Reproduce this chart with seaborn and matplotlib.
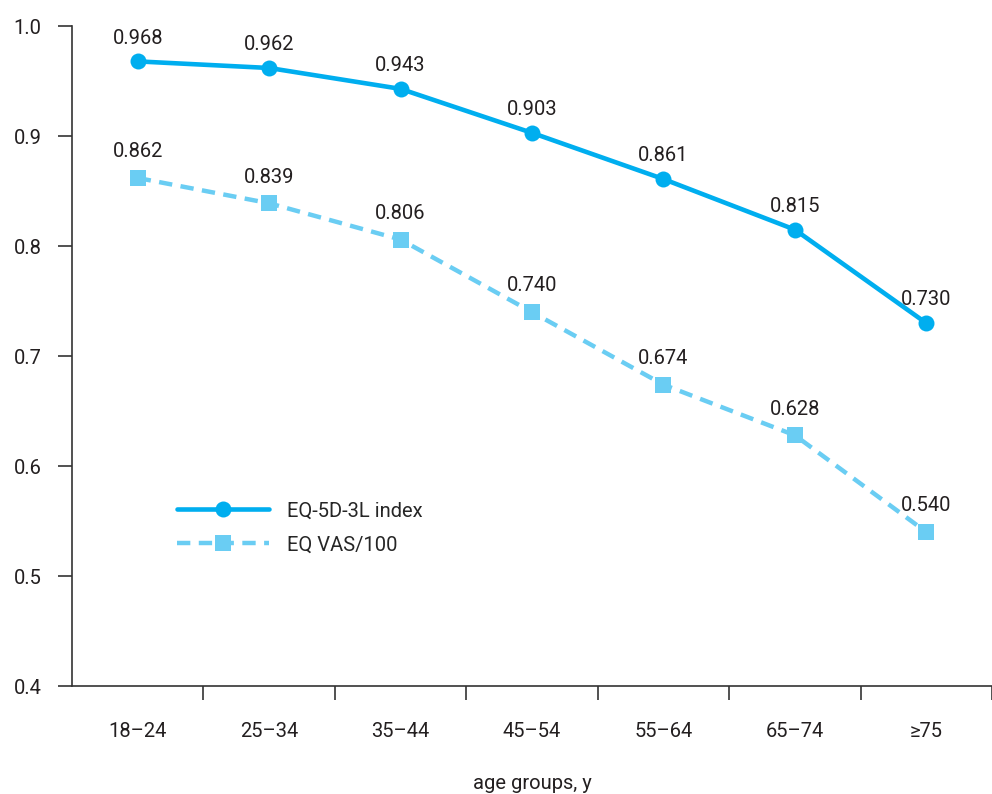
import numpy as np
import pandas as pd
import seaborn as sns
import matplotlib.pyplot as plt
from matplotlib import font_manager

# data
age_groups = ['18–24', '25–34', '35–44', '45–54', '55–64', '65–74', '≥75']
eq5d_index = [0.968, 0.962, 0.943, 0.903, 0.861, 0.815, 0.730]
eq_vas = [0.862, 0.839, 0.806, 0.740, 0.674, 0.628, 0.540]
series_names = ['EQ-5D-3L index', 'EQ VAS/100']
yticks = [0.4, 0.5, 0.6, 0.7, 0.8, 0.9, 1.0]

sns.set_style('white')
names = {f.name for f in font_manager.fontManager.ttflist}
font = 'Liberation Sans Narrow' if 'Liberation Sans Narrow' in names else 'Roboto'
plt.rcParams['font.family'] = [font, 'DejaVu Sans']

c1 = '#00AEEF'
c2 = '#6ACDF3'
txt = '#231F20'
fs = 14.5

df = pd.DataFrame({'age': age_groups, 'idx': eq5d_index, 'vas': eq_vas})

fig = plt.figure(figsize=(9.92, 7.94), dpi=100)
ax = fig.add_axes([0.0726, 0.136, 0.9274, 0.831])

sns.lineplot(data=df, x='age', y='idx', ax=ax, color=c1, linewidth=3.3,
             marker='o', markersize=11.5, markeredgewidth=0, label=series_names[0])
sns.lineplot(data=df, x='age', y='vas', ax=ax, color=c2, linewidth=3.2,
             marker='s', markersize=11.5, markeredgewidth=0, label=series_names[1])
ax.lines[1].set_dashes([3, 1.9])

for i, (a, b) in enumerate(zip(eq5d_index, eq_vas)):
    ax.annotate(f'{a:.3f}', (i, a), xytext=(0, 10), textcoords='offset points',
                ha='center', va='bottom', fontsize=fs, color=txt)
    ax.annotate(f'{b:.3f}', (i, b), xytext=(0, 12), textcoords='offset points',
                ha='center', va='bottom', fontsize=fs, color=txt)

ax.set_xlim(-0.5, 6.5)
ax.set_ylim(0.4, 1.0)
ax.set_yticks(yticks)
ax.set_yticklabels([f'{t:.1f}' for t in yticks], fontsize=fs, color=txt)
ax.set_xticks(np.arange(len(age_groups)))
ax.set_xticklabels(age_groups, fontsize=fs, color=txt)
ax.set_xticks(np.arange(len(age_groups)) + 0.5, minor=True)
ax.tick_params(axis='x', which='major', bottom=False, length=0, pad=26)
ax.tick_params(axis='x', which='minor', bottom=True, length=10, width=1.2,
               color='#333333', direction='out')
ax.tick_params(axis='y', left=True, length=10, width=1.2, color='#333333',
               direction='out', pad=12)
ax.set_xlabel('age groups, y', fontsize=fs, color=txt, labelpad=24)
ax.set_ylabel('')

for s in ['top', 'right']:
    ax.spines[s].set_visible(False)
for s in ['left', 'bottom']:
    ax.spines[s].set_color('#333333')
    ax.spines[s].set_linewidth(1.2)

ax.legend(loc='upper left', bbox_to_anchor=(0.105, 0.292), frameon=False, fontsize=fs,
          handlelength=4.6, labelspacing=0.75, handletextpad=0.9, borderaxespad=0)

fig.savefig('out.png', dpi=100)
